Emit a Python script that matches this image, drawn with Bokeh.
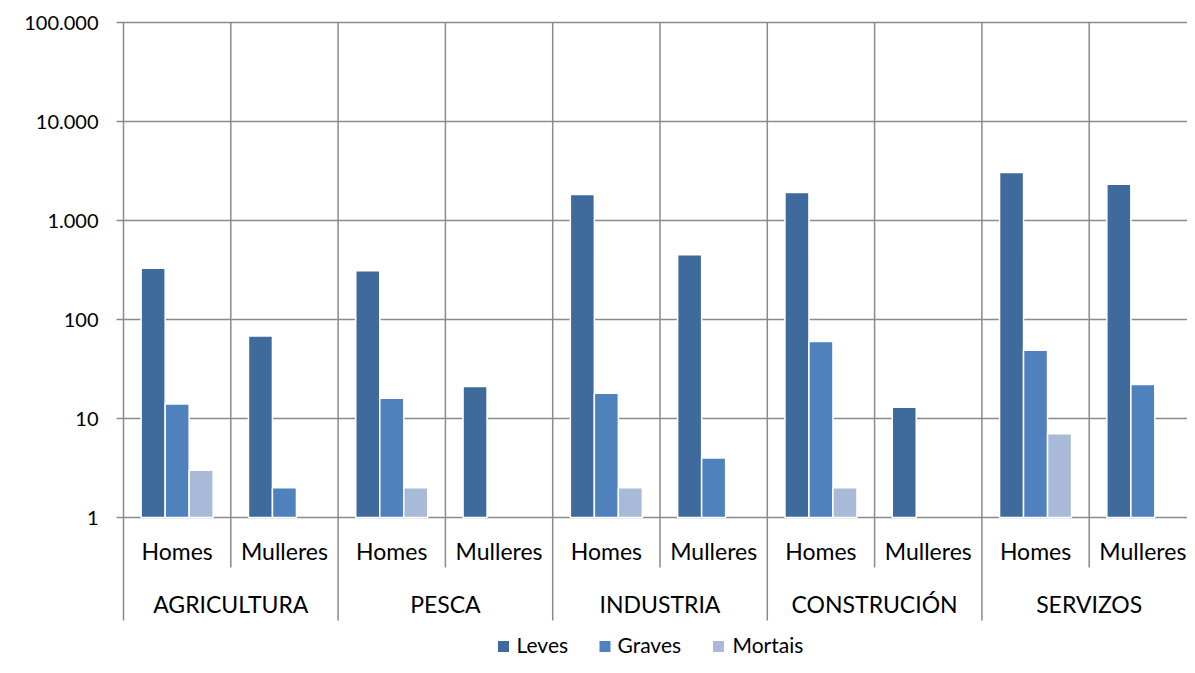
from bokeh.plotting import figure
from bokeh.models import ColumnDataSource, Range1d, LinearScale
from bokeh.embed import file_html
from bokeh.resources import INLINE
from bokeh.core.properties import value

# ---------------- data ----------------
sectors = ["AGRICULTURA", "PESCA", "INDUSTRIA", "CONSTRUCIÓN", "SERVIZOS"]
genders = ["Homes", "Mulleres"]
series = ["Leves", "Graves", "Mortais"]
# one value per (sector, gender) in order: AGR-H, AGR-M, PES-H, PES-M, ...
leves = [330, 68, 310, 21, 1830, 450, 1920, 13, 3050, 2330]
graves = [14, 2, 16, None, 18, 4, 60, None, 49, 22]
mortais = [3, None, 2, None, 2, None, 2, None, 7, None]
ytick_values = [1, 10, 100, 1000, 10000, 100000]
ytick_labels = ["1", "10", "100", "1.000", "10.000", "100.000"]

# ---------------- style / layout ----------------
colors = ["#3E6A9C", "#4F81BD", "#A9BAD9"]
grid_color = "#8a8a8a"
FONT = value("Lato")
W, H = 1187, 657
LEFT = 123          # px of the value axis line
P_TOP = 22          # px of the 100.000 gridline
DEC = 99            # px per decade
UNIT = 107.3        # px per sub-category
BASE = P_TOP + 5 * DEC

y_start = 10 ** (5 - (H - P_TOP) / DEC)
y_end = 10 ** (5 + P_TOP / DEC)

p = figure(width=W, height=H, x_range=Range1d(-LEFT / UNIT, (W - LEFT) / UNIT),
           y_range=Range1d(y_start, y_end), y_axis_type="log",
           x_axis_location=None, y_axis_location=None,
           output_backend="svg", toolbar_location=None,
           min_border_left=0, min_border_right=0, min_border_top=0,
           min_border_bottom=0, outline_line_color=None)
p.extra_x_ranges = {"px": Range1d(0, W)}
p.extra_x_scales = {"px": LinearScale()}
p.extra_y_ranges = {"px": Range1d(H, 0)}
p.extra_y_scales = {"px": LinearScale()}
p.xgrid.visible = False
p.ygrid.visible = False

# ---------------- value axis: gridlines, ticks, labels ----------------
n_t = len(ytick_values)
p.segment(x0=[LEFT - 7] * n_t, x1=[W] * n_t, y0=ytick_values, y1=ytick_values,
          x_range_name="px", line_color=grid_color, line_width=1.5)
p.text(x=[98] * n_t, y=ytick_values, text=ytick_labels, x_range_name="px",
       text_font=FONT, text_font_size="20px", text_align="right",
       text_baseline="middle", text_color="#000000")

# ---------------- bars ----------------
offsets = [-24 / UNIT, 0.0, 24 / UNIT]
bar_w = 24 / UNIT
for k, (name, vals) in enumerate(zip(series, [leves, graves, mortais])):
    xs = [i + 0.5 + offsets[k] for i, v in enumerate(vals) if v is not None]
    tops = [v for v in vals if v is not None]
    src = ColumnDataSource(dict(x=xs, top=tops))
    p.vbar(x="x", top="top", bottom=1, width=bar_w, source=src,
           fill_color=colors[k], line_color="white", line_width=1.5)

# ---------------- separators & axis line ----------------
n_sub = len(sectors) * len(genders)
sep_x, sep_y1 = [], []
for i in range(0, n_sub):
    sep_x.append(i)
    sep_y1.append(BASE + 50 if i % 2 == 1 else BASE + 103)
p.segment(x0=sep_x, y0=[P_TOP] * len(sep_x), x1=sep_x, y1=sep_y1,
          y_range_name="px", line_color=grid_color, line_width=1.5)

# ---------------- category labels ----------------
sub_x = [i + 0.5 for i in range(n_sub)]
sub_t = [genders[i % 2] for i in range(n_sub)]
p.text(x=sub_x, y=[BASE + 33] * n_sub, text=sub_t, y_range_name="px",
       text_font=FONT, text_font_size="23px", text_align="center",
       text_baseline="alphabetic", text_color="#000000")
grp_x = [2 * s + 1 for s in range(len(sectors))]
p.text(x=grp_x, y=[BASE + 86] * len(sectors), text=sectors, y_range_name="px",
       text_font=FONT, text_font_size="23px", text_align="center",
       text_baseline="alphabetic", text_color="#000000")

# ---------------- legend ----------------
leg_sq_x = [503, 604.5, 718]
leg_tx_x = [516, 617, 732]
p.scatter(x=leg_sq_x, y=[H - 11] * 3, marker="square", size=11, color=colors,
          line_color=None, x_range_name="px", y_range_name="px")
p.text(x=leg_tx_x, y=[H - 13] * 3, text=series, x_range_name="px", y_range_name="px",
       text_font=FONT, text_font_size="21px", text_align="left",
       text_baseline="alphabetic", text_color="#000000")

open("out.html", "w", encoding="utf-8").write(file_html(p, INLINE))
